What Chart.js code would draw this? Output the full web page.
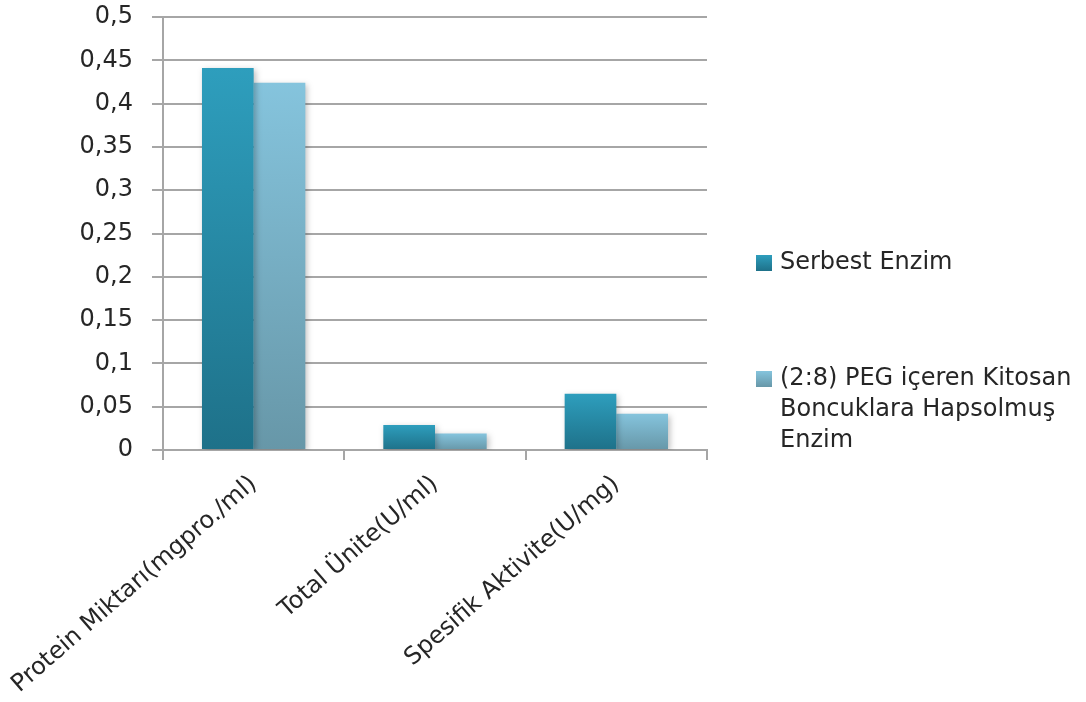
<!DOCTYPE html>
<html>
<head>
<meta charset="utf-8">
<script src="https://cdn.jsdelivr.net/npm/chart.js@4"></script>
<style>
  html, body { margin: 0; padding: 0; background: #fff; }
  #wrap { width: 1086px; height: 702px; }
</style>
</head>
<body>
<div id="wrap"><canvas id="enzimChart" width="1086" height="702"></canvas></div>
<script>
// values
const categories = ['Protein Miktarı(mgpro./ml)', 'Total Ünite(U/ml)', 'Spesifik Aktivite(U/mg)'];
const serbestEnzim = [0.441, 0.029, 0.065];
const hapsolmusEnzim = [0.424, 0.019, 0.042];
const seriesNames = ['Serbest Enzim', '(2:8) PEG içeren Kitosan Boncuklara Hapsolmuş Enzim'];
const yTickLabels = ['0', '0,05', '0,1', '0,15', '0,2', '0,25', '0,3', '0,35', '0,4', '0,45', '0,5'];

const FONT = '"DejaVu Sans", sans-serif';
const TEXT = '#262626';
const GRID = '#a6a6a6';

// top / bottom colours of each bar's gradient
const shades = [
  ['#2e9ebd', '#1e7189'],
  ['#85c4dd', '#6797a8']
];

// per-bar vertical gradient
function barFill(i) {
  return (ctx) => {
    const chart = ctx.chart;
    if (!chart.chartArea || ctx.raw == null) return shades[i][0];
    const y = chart.scales.y;
    const top = y.getPixelForValue(ctx.raw);
    const bottom = y.getPixelForValue(0);
    const g = chart.ctx.createLinearGradient(0, top, 0, bottom);
    g.addColorStop(0, shades[i][0]);
    g.addColorStop(1, shades[i][1]);
    return g;
  };
}

// soft drop shadow under the bars
const barShadow = {
  id: 'barShadow',
  beforeDatasetsDraw(chart) {
    const c = chart.ctx;
    c.save();
    c.shadowColor = 'rgba(0,0,0,0.25)';
    c.shadowBlur = 6;
    c.shadowOffsetX = 2;
    c.shadowOffsetY = 2;
  },
  afterDatasetsDraw(chart) {
    chart.ctx.restore();
  }
};

// legend on the right, with the long name wrapped
const sideLegend = {
  id: 'sideLegend',
  afterDraw(chart) {
    const c = chart.ctx;
    const items = [
      { y: 263, lines: ['Serbest Enzim'] },
      { y: 379, lines: ['(2:8) PEG içeren Kitosan', 'Boncuklara Hapsolmuş', 'Enzim'] }
    ];
    c.save();
    c.font = '24px ' + FONT;
    c.fillStyle = TEXT;
    c.textBaseline = 'middle';
    items.forEach((it, i) => {
      const g = c.createLinearGradient(0, it.y - 8, 0, it.y + 8);
      g.addColorStop(0, shades[i][0]);
      g.addColorStop(1, shades[i][1]);
      c.fillStyle = g;
      c.fillRect(756, it.y - 8, 16, 16);
      c.fillStyle = TEXT;
      it.lines.forEach((t, k) => c.fillText(t, 780, it.y + k * 31));
    });
    c.restore();
  }
};

new Chart(document.getElementById('enzimChart'), {
  type: 'bar',
  data: {
    labels: categories,
    datasets: [
      { label: seriesNames[0], data: serbestEnzim, backgroundColor: barFill(0) },
      { label: seriesNames[1], data: hapsolmusEnzim, backgroundColor: barFill(1) }
    ]
  },
  options: {
    responsive: false,
    animation: false,
    layout: { padding: { top: 17, right: 379, left: 0, bottom: 0 } },
    datasets: { bar: { categoryPercentage: 0.57, barPercentage: 1.0 } },
    plugins: {
      legend: { display: false },
      tooltip: { enabled: false }
    },
    scales: {
      x: {
        grid: { drawOnChartArea: false, drawTicks: true, tickLength: 10, color: GRID, lineWidth: 2 },
        border: { color: GRID, width: 2 },
        ticks: {
          font: { family: FONT, size: 24 },
          color: TEXT,
          minRotation: 41,
          maxRotation: 41,
          padding: 10,
          autoSkip: false
        },
        afterFit(scale) {
          scale.height = 252;
          scale.paddingLeft = 0;
          scale.paddingRight = 0;
        }
      },
      y: {
        min: 0,
        max: 0.5,
        grid: { color: GRID, lineWidth: 2, tickLength: 11 },
        border: { color: GRID, width: 2 },
        ticks: {
          stepSize: 0.05,
          font: { family: FONT, size: 24 },
          color: TEXT,
          padding: 19,
          callback: (v, i) => yTickLabels[i]
        },
        afterFit(scale) {
          scale.width = 163;
          scale.paddingTop = 0;
          scale.paddingBottom = 0;
        }
      }
    }
  },
  plugins: [barShadow, sideLegend]
});
</script>
</body>
</html>
